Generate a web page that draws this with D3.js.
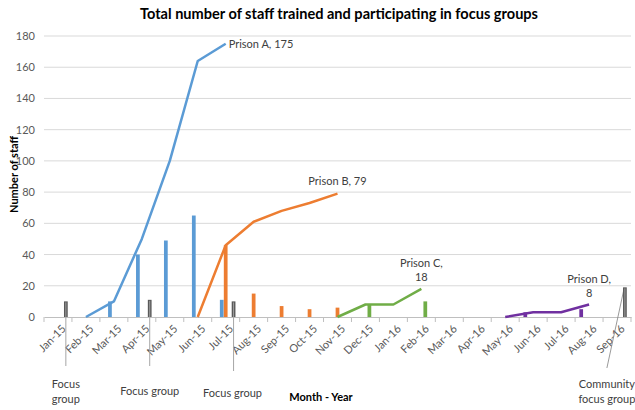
<!DOCTYPE html>
<html><head><meta charset="utf-8">
<script src="https://cdn.jsdelivr.net/npm/d3@7"></script>
<style>body{margin:0;background:#fff}svg{display:block}text{font-family:Lato,"Open Sans",sans-serif}</style>
</head><body><svg id="c" width="635" height="410"></svg>
<script>
const months = ["Jan-15","Feb-15","Mar-15","Apr-15","May-15","Jun-15","Jul-15","Aug-15","Sep-15","Oct-15","Nov-15","Dec-15","Jan-16","Feb-16","Mar-16","Apr-16","May-16","Jun-16","Jul-16","Aug-16","Sep-16"];
const yTicks = [0,20,40,60,80,100,120,140,160,180];
// cumulative lines
const lineA = [null,0,10,50,100,164,175,null,null,null,null,null,null,null,null,null,null,null,null,null,null];
const lineB = [null,null,null,null,null,0,46,61,68,73,79,null,null,null,null,null,null,null,null,null,null];
const lineC = [null,null,null,null,null,null,null,null,null,null,0,8,8,18,null,null,null,null,null,null,null];
const lineD = [null,null,null,null,null,null,null,null,null,null,null,null,null,null,null,null,0,3,3,8,null];
// monthly bars
const barA  = [0,0,10,40,49,65,11,0,0,0,0,0,0,0,0,0,0,0,0,0,0];
const barB  = [0,0,0,0,0,0,46,15,7,5,6,0,0,0,0,0,0,0,0,0,0];
const barC  = [0,0,0,0,0,0,0,0,0,0,0,8,0,10,0,0,0,0,0,0,0];
const barD  = [0,0,0,0,0,0,0,0,0,0,0,0,0,0,0,0,0,3,0,5,0];
const barFG = [10,0,0,11,0,0,10,0,0,0,0,0,0,0,0,0,0,0,0,0,19];
const seriesNames = ["D","A","B","C","FG"];
const colors = {A:"#5b9bd5",B:"#ed7d31",C:"#70ad47",D:"#7030a0",FG:"#595959"};
const endLabels = [
  {s:"A", lines:["Prison A,  175"]},
  {s:"B", lines:["Prison B, 79"]},
  {s:"C", lines:["Prison C,","18"]},
  {s:"D", lines:["Prison D,","8"]}
];
const fgLabels = [
  {m:"Jan-15", lines:["Focus","group"]},
  {m:"Apr-15", lines:["Focus group"]},
  {m:"Jul-15", lines:["Focus group"]},
  {m:"Sep-16", lines:["Community","focus group"]}
];

const svg = d3.select("#c");
const L=44, R=631, T=36, B=317;
const x = d3.scaleBand().domain(months).range([L,R]);
const bw = x.bandwidth();
const xi = d3.scaleBand().domain(seriesNames).range([bw/2-9.75, bw/2+9.75]).paddingInner(0.05);
const y = d3.scaleLinear().domain([0,180]).range([B,T]);
const cx = m => x(m)+bw/2;

// title
svg.append("text").attr("x",339).attr("y",19).attr("text-anchor","middle")
  .attr("font-weight","bold").attr("font-size",16).attr("fill","#000")
  .attr("textLength",398).attr("lengthAdjust","spacingAndGlyphs")
  .text("Total number of staff trained and participating in focus groups");

// grid
svg.append("g").selectAll("line").data(yTicks.slice(1)).join("line")
  .attr("x1",L).attr("x2",R).attr("y1",d=>y(d)).attr("y2",d=>y(d))
  .attr("stroke","#d9d9d9").attr("stroke-width",1);
// y axis labels
const ya = svg.append("g").attr("transform",`translate(${L},0)`)
  .call(d3.axisLeft(y).tickValues(yTicks).tickSize(0).tickPadding(9));
ya.select(".domain").remove();
ya.selectAll("text").attr("font-size",11).attr("fill","#595959").attr("font-family","Lato,sans-serif");
svg.append("text").attr("transform",`translate(18,${(T+B)/2-2}) rotate(-90)`)
  .attr("text-anchor","middle").attr("font-weight","bold").attr("font-size",11).text("Number of staff");

// x axis
const xa = svg.append("g").attr("transform",`translate(0,${B})`)
  .call(d3.axisBottom(x).tickSize(0).tickFormat(""));
xa.select(".domain").attr("stroke","#bfbfbf");
svg.append("g").selectAll("line").data(months.concat(["end"])).join("line")
  .attr("x1",(d,i)=>L+i*bw).attr("x2",(d,i)=>L+i*bw).attr("y1",B).attr("y2",B+5)
  .attr("stroke","#bfbfbf");
svg.append("g").selectAll("text").data(months).join("text")
  .attr("transform",d=>`translate(${cx(d)+3},${B+7}) rotate(-45)`)
  .attr("text-anchor","end").attr("dy","0.7em").attr("font-size",11).attr("fill","#595959").text(d=>d);

// annotation lines for focus groups
const fgx = m => x(m)+xi("FG")+xi.bandwidth()/2;
[["Jan-15",366],["Apr-15",366],["Jul-15",371]].forEach(([m,y2])=>{
  svg.append("line").attr("x1",fgx(m)).attr("x2",fgx(m)).attr("y1",y(0)-12).attr("y2",y2)
    .attr("stroke","#a6a6a6").attr("stroke-width",1);
});
svg.append("line").attr("x1",fgx("Sep-16")-1).attr("y1",y(19)+2).attr("x2",fgx("Sep-16")-18).attr("y2",368)
  .attr("stroke","#808080").attr("stroke-width",0.8);

// bars
const barData = {A:barA,B:barB,C:barC,D:barD,FG:barFG};
seriesNames.forEach(s=>{
  const g = svg.append("g");
  g.selectAll("rect").data(months.map((m,i)=>({m,v:barData[s][i]})).filter(d=>d.v>0)).join("rect")
    .attr("x",d=>x(d.m)+xi(s)).attr("width",xi.bandwidth())
    .attr("y",d=>y(d.v)).attr("height",d=>y(0)-y(d.v)).attr("fill",colors[s]);
  if(s==="FG"){
    g.selectAll("line").data(months.map((m,i)=>({m,v:barData[s][i]})).filter(d=>d.v>0)).join("line")
      .attr("x1",d=>x(d.m)+xi(s)+xi.bandwidth()/2).attr("x2",d=>x(d.m)+xi(s)+xi.bandwidth()/2)
      .attr("y1",d=>y(d.v)+1).attr("y2",y(0)).attr("stroke","#bdbdbd").attr("stroke-width",0.7);
  }
});

// lines
const lineData = {A:lineA,B:lineB,C:lineC,D:lineD};
const lineGen = d3.line().defined(d=>d.v!==null).x(d=>cx(d.m)).y(d=>y(d.v));
["A","B","C","D"].forEach(s=>{
  svg.append("path").datum(months.map((m,i)=>({m,v:lineData[s][i]})))
    .attr("d",lineGen).attr("fill","none").attr("stroke",colors[s]).attr("stroke-width",2.5)
    .attr("stroke-linejoin","round");
});

// end labels
endLabels.forEach(lb=>{
  const arr = lineData[lb.s];
  let last = arr.length-1; while(arr[last]===null) last--;
  const px = cx(months[last]), py = y(arr[last]);
  const t = svg.append("text").attr("font-size",11).attr("fill","#404040");
  if(lb.lines.length===1){
    if(lb.s==="A"){ t.attr("x",px+3).attr("y",py+4).text(lb.lines[0]); }
    else { t.attr("x",px).attr("y",py-9).attr("text-anchor","middle").text(lb.lines[0]); }
  } else {
    t.attr("text-anchor","middle");
    lb.lines.forEach((ln,k)=>t.append("tspan").attr("x",px).attr("y",py-22+k*14.5).text(ln));
  }
});

// focus group labels
fgLabels.forEach(fl=>{
  const px = fl.m==="Sep-16" ? fgx(fl.m)-18 : fgx(fl.m);
  const t = svg.append("text").attr("font-size",11).attr("fill","#404040").attr("text-anchor","middle");
  if(fl.lines.length===2) fl.lines.forEach((ln,k)=>t.append("tspan").attr("x",px).attr("y",388+k*15).text(ln));
  else t.attr("x",px+(fl.m==="Jul-15"?-1:0)).attr("y",fl.m==="Jul-15"?397:395).text(fl.lines[0]);
});
svg.append("text").attr("x",321).attr("y",401).attr("text-anchor","middle").attr("font-weight","bold")
  .attr("font-size",11).text("Month - Year");
</script></body></html>
